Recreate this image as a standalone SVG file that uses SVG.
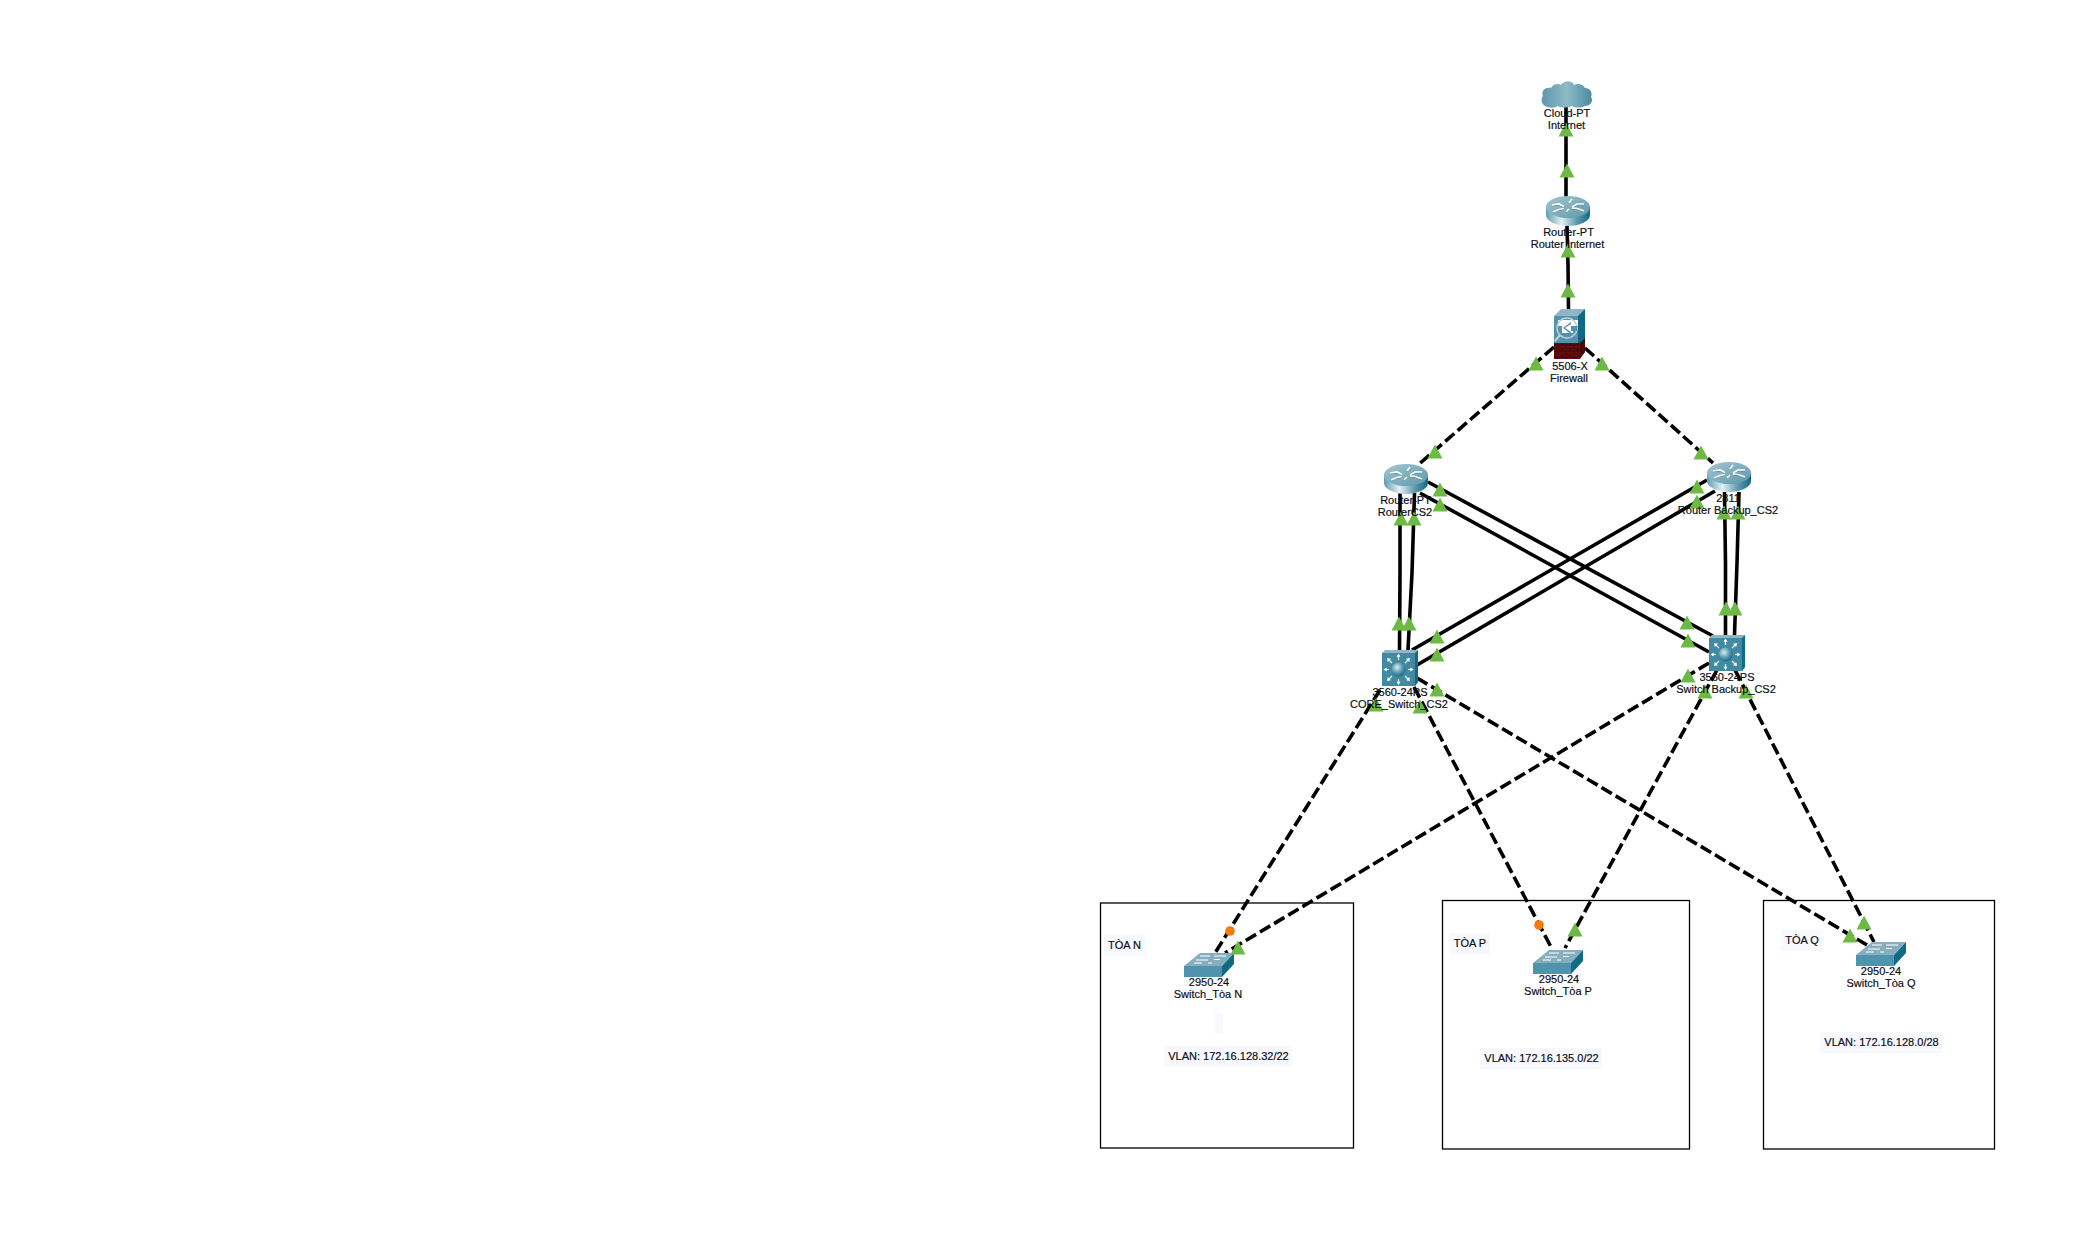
<svg xmlns="http://www.w3.org/2000/svg" width="2094" height="1249" viewBox="0 0 2094 1249">
<style>
text{font-family:"Liberation Sans",Arial,sans-serif;font-size:11px;fill:#0d0d14;stroke:#0d0d14;stroke-width:.18;text-anchor:middle}
.solid{fill:none;stroke:#000;stroke-width:3.6}
.dash{fill:none;stroke:#000;stroke-width:3.6;stroke-dasharray:12 4.5}
.box{fill:none;stroke:#000;stroke-width:1.3}
.bg{fill:#f8f9ff}
.tri{fill:#6cb944}
.dot{fill:#f57a0f}
.wl{fill:none;stroke:#fff;stroke-width:1.2}
.ra{fill:none;stroke:#fff;stroke-width:1.7}
.rs{fill:none;stroke:#2f6577;stroke-width:.8}
</style>
<defs>
<linearGradient id="gCloud" x1="0" x2="1" y1="0" y2="0"><stop offset="0" stop-color="#5f96aa"/><stop offset=".5" stop-color="#8dbac8"/><stop offset="1" stop-color="#4c8aa0"/></linearGradient>
<linearGradient id="gBody" x1="0" x2="1" y1="0" y2="0"><stop offset="0" stop-color="#5f9bad"/><stop offset=".35" stop-color="#e4f0f3"/><stop offset=".7" stop-color="#5f9bad"/><stop offset="1" stop-color="#0f6a86"/></linearGradient>
<linearGradient id="gTop" x1="0" x2="1" y1="0" y2="1"><stop offset="0" stop-color="#a3c6d2"/><stop offset="1" stop-color="#5e98ac"/></linearGradient>
<radialGradient id="gBall" cx=".4" cy=".35" r=".7"><stop offset="0" stop-color="#d9ecf2"/><stop offset=".6" stop-color="#4f94ac"/><stop offset="1" stop-color="#1b5f78"/></radialGradient>
<pattern id="brick" width="8" height="6" patternUnits="userSpaceOnUse"><rect width="8" height="6" fill="#640c0e"/><path d="M0 0H8M0 3H8M2 0V3M6 3V6" stroke="#2a0506" stroke-width=".7" fill="none"/></pattern>
<symbol id="router" viewBox="0 0 44 30" width="44" height="30" overflow="visible">
<path d="M0 11V19C0 25 10 30 22 30S44 25 44 19V11Z" fill="url(#gBody)"/>
<ellipse cx="22" cy="11" rx="22" ry="11" fill="url(#gTop)"/>
<path d="M6 9L13 8 18 10.500M38 8 31 8 26 11M7 16 13 13.500 18 12.500M38 15 31 12.500 26 12M26 3 23 7M20 16 23 13" class="rs" transform="translate(0 .8)"/>
<path d="M6 9L13 8 18 10.500M38 8 31 8 26 11M7 16 13 13.500 18 12.500M38 15 31 12.500 26 12M26 3 23 7M20 16 23 13" class="ra"/>
</symbol>
<symbol id="mls" viewBox="0 0 36 36" width="36" height="36" overflow="visible">
<path d="M0 3L3 0H36V32L33 36H0Z" fill="#8fb6c4"/>
<path d="M33 3L36 0V32L33 36Z" fill="#0f6a86"/>
<rect x="0" y="3" width="33" height="33" fill="#428aa4"/>
<path d="M16.500 10V5.500M16.500 29V33.500M7 19.500H3.500M26 19.500H29.500M10 13L6.500 9.500M23 13L26.500 9.500M10 26L6.500 29.500M23 26L26.500 29.500" fill="none" stroke="#fff" stroke-width="1.200"/>
<path d="M16.500 3.500l-2 3.200h4zM16.500 35l-2-3.200h4zM1.500 19.500l3.200-2v4zM31.500 19.500l-3.200-2v4zM5 8l4 .8-3.200 3.200zM28 8l-4 .8 3.200 3.200zM5 31l4-.8-3.200-3.200zM28 31l-4-.8 3.200-3.200z" fill="#fff"/>
<circle cx="16.500" cy="19.500" r="7" fill="url(#gBall)"/>
</symbol>
<symbol id="sw" viewBox="0 0 50 24" width="50" height="24" overflow="visible">
<path d="M0 13L16 0H50L38 13Z" fill="#85afbf"/>
<path d="M38 13L50 0V11L38 24Z" fill="#0f6a86"/>
<rect x="0" y="13" width="38" height="11" fill="#4f94ac"/>
<path d="M16 3H26M30 3H42M12 7H24M30 6.500H36M10 10H18M24 10H28" class="wl"/>
</symbol>
</defs>
<rect width="2094" height="1249" fill="#fff"/>

<g id="areas">
<rect class="box" x="1100.500" y="903" width="253" height="245"/>
<rect class="box" x="1442.500" y="900.500" width="247" height="248.500"/>
<rect class="box" x="1763.500" y="900.500" width="231" height="248.500"/>
<rect class="bg" x="1215" y="1013" width="8" height="21"/>
</g>

<g id="connectors">
<path class="solid" d="M1566 105V200"/>
<path class="solid" d="M1567 226L1568 265 1568.500 310"/>
<path class="solid" d="M1400 493V573L1399.500 650"/>
<path class="solid" d="M1414.500 493L1412 573 1408 650"/>
<path class="solid" d="M1724.500 492L1725.500 563 1725.500 635"/>
<path class="solid" d="M1739 492L1737 563 1734.500 635"/>
<path class="solid" d="M1428 482L1713 636"/>
<path class="solid" d="M1420 493L1709 652"/>
<path class="solid" d="M1707 480L1412 650"/>
<path class="solid" d="M1715 491L1417 665"/>
<path class="dash" d="M1554 347L1418 465"/>
<path class="dash" d="M1585 348L1713 463"/>
<path class="dash" d="M1380 690L1215 953"/>
<path class="dash" d="M1709 663L1225 953"/>
<path class="dash" d="M1414 687L1551 947"/>
<path class="dash" d="M1717 670L1565 948"/>
<path class="dash" d="M1417 678L1867 945"/>
<path class="dash" d="M1735 670L1874 942"/>
</g>

<g id="node-cloud">
<path fill="url(#gCloud)" d="M1548 107C1542 106 1540 100 1543 96 1541 90 1546 87 1551 88 1553 84 1558 83 1561 85 1564 80 1572 80 1574 85 1578 83 1583 84 1585 88 1590 88 1593 93 1591 97 1594 101 1590 106 1585 106 1581 108 1575 108 1572 106 1567 108 1560 108 1558 106 1555 108 1551 108 1548 107Z"/>
</g>
<g id="node-router-internet"><use href="#router" x="1546" y="196"/></g>
<g id="node-firewall">
<path d="M1554 316L1561 309H1585V352L1578 359H1554Z" fill="#8fb6c4"/>
<path d="M1578 316L1585 309V352L1578 359Z" fill="#0f6a86"/>
<rect x="1554" y="316" width="24" height="28" fill="#4f94ac"/>
<rect x="1554" y="343" width="26" height="16" fill="url(#brick)"/>
<path d="M1580 343L1585 338V352L1580 359Z" fill="#4a0708"/>
<path d="M1558 320H1578V326H1573V333H1562V326H1558Z" fill="#fff"/>
<circle cx="1567" cy="328" r="10" fill="none" stroke="#c4cdd2" stroke-width="1.500"/>
<path d="M1560 335L1555 341" stroke="#c4cdd2" stroke-width="2.200"/>
<path d="M1563 328L1571 322V326H1577V331H1571V334Z" fill="#4f94ac"/>
<path d="M1565 328L1571 324V332Z" fill="#fff"/>
</g>
<g id="node-router-cs2"><use href="#router" x="1384" y="464"/></g>
<g id="node-router-backup"><use href="#router" x="1707" y="462"/></g>
<g id="node-core-switch"><use href="#mls" x="1382" y="650"/></g>
<g id="node-switch-backup"><use href="#mls" x="1709" y="635"/></g>
<g id="node-switch-n"><use href="#sw" x="1184" y="953"/></g>
<g id="node-switch-p"><use href="#sw" x="1533" y="950"/></g>
<g id="node-switch-q"><use href="#sw" x="1856" y="942"/></g>

<g id="link-status">
<path class="tri" d="M1566 122.500l7.500 14h-15z"/>
<path class="tri" d="M1567 163.500l7.500 14h-15z"/>
<path class="tri" d="M1568 243.500l7.500 14h-15z"/>
<path class="tri" d="M1568 283.500l7.500 14h-15z"/>
<path class="tri" d="M1536 356.500l7.500 14h-15z"/>
<path class="tri" d="M1602 356.500l7.500 14h-15z"/>
<path class="tri" d="M1435 444.500l7.500 14h-15z"/>
<path class="tri" d="M1701 445.500l7.500 14h-15z"/>
<path class="tri" d="M1440 482.500l7.500 14h-15z"/>
<path class="tri" d="M1440 497.500l7.500 14h-15z"/>
<path class="tri" d="M1401 511.500l7.500 14h-15z"/>
<path class="tri" d="M1414 511.500l7.500 14h-15z"/>
<path class="tri" d="M1697 479.500l7.500 14h-15z"/>
<path class="tri" d="M1697 494.500l7.500 14h-15z"/>
<path class="tri" d="M1724 505.500l7.500 14h-15z"/>
<path class="tri" d="M1738 505.500l7.500 14h-15z"/>
<path class="tri" d="M1399 616.500l7.500 14h-15z"/>
<path class="tri" d="M1409 616.500l7.500 14h-15z"/>
<path class="tri" d="M1726 601.500l7.500 14h-15z"/>
<path class="tri" d="M1735 601.500l7.500 14h-15z"/>
<path class="tri" d="M1687 615.500l7.500 14h-15z"/>
<path class="tri" d="M1688 633.500l7.500 14h-15z"/>
<path class="tri" d="M1437 629.500l7.500 14h-15z"/>
<path class="tri" d="M1437 647.500l7.500 14h-15z"/>
<path class="tri" d="M1437 682.500l7.500 14h-15z"/>
<path class="tri" d="M1688 668.500l7.500 14h-15z"/>
<path class="tri" d="M1376 697.500l7.500 14h-15z"/>
<path class="tri" d="M1420 699.500l7.500 14h-15z"/>
<path class="tri" d="M1705 684.500l7.500 14h-15z"/>
<path class="tri" d="M1746 684.500l7.500 14h-15z"/>
<path class="tri" d="M1238 940.500l7.500 14h-15z"/>
<path class="tri" d="M1575 922.500l7.500 14h-15z"/>
<path class="tri" d="M1864 915.500l7.500 14h-15z"/>
<path class="tri" d="M1850 928.500l7.500 14h-15z"/>
<circle class="dot" cx="1230" cy="931" r="4.800"/>
<circle class="dot" cx="1539" cy="925" r="4.800"/>
</g>

<g id="labels">
<text x="1567" y="117">Cloud-PT</text><text x="1566.500" y="129">Internet</text>
<text x="1568.500" y="236">Router-PT</text><text x="1567.500" y="248">Router Internet</text>
<text x="1570" y="370">5506-X</text><text x="1569" y="382">Firewall</text>
<text x="1405.500" y="504">Router-PT</text><text x="1405" y="516">RouterCS2</text>
<text x="1728" y="502">2811</text><text x="1728" y="514">Router Backup_CS2</text>
<text x="1400" y="696">3560-24PS</text><text x="1399" y="708">CORE_Switch_CS2</text>
<text x="1727" y="681">3560-24PS</text><text x="1726" y="693">Switch Backup_CS2</text>
<text x="1209" y="986">2950-24</text><text x="1208" y="998">Switch_Tòa N</text>
<text x="1559" y="983">2950-24</text><text x="1558" y="995">Switch_Tòa P</text>
<text x="1881" y="975">2950-24</text><text x="1881" y="987">Switch_Tòa Q</text>
<rect class="bg" x="1104" y="935" width="41" height="21"/><text x="1124.500" y="949">TÒA N</text>
<rect class="bg" x="1450" y="933" width="40" height="21"/><text x="1470" y="947">TÒA P</text>
<rect class="bg" x="1781" y="930" width="42" height="21"/><text x="1802" y="944">TÒA Q</text>
<rect class="bg" x="1164" y="1046" width="128" height="21"/><text x="1228.500" y="1060">VLAN: 172.16.128.32/22</text>
<rect class="bg" x="1480" y="1048" width="122" height="21"/><text x="1541.500" y="1062">VLAN: 172.16.135.0/22</text>
<rect class="bg" x="1820" y="1032" width="122" height="21"/><text x="1881.500" y="1046">VLAN: 172.16.128.0/28</text>
</g>
</svg>
